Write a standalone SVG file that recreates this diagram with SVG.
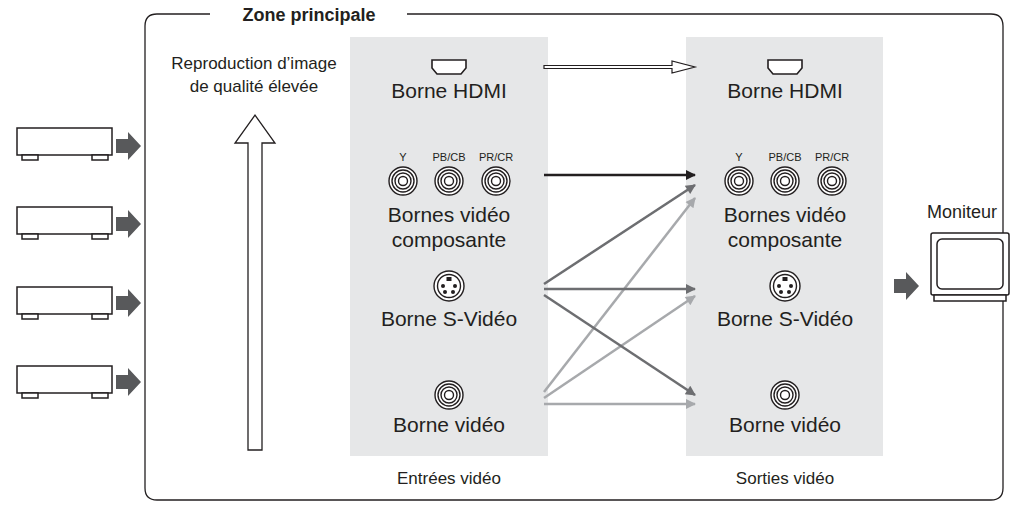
<svg xmlns="http://www.w3.org/2000/svg" width="1015" height="514" viewBox="0 0 1015 514">
<style>
text{font-family:"Liberation Sans",Arial,sans-serif;fill:#231f20}
.l{font-size:21px;text-anchor:middle}
.s{font-size:17px;text-anchor:middle}
.t{font-size:11px;text-anchor:middle}
.dev{fill:#fff;stroke:#231f20;stroke-width:1.5}
.jack{fill:#fff;stroke:#231f20;stroke-width:1.4}
</style>
<defs>
<marker id="mk" viewBox="0 0 10 10" refX="9" refY="5" markerWidth="15" markerHeight="10" orient="auto" markerUnits="userSpaceOnUse"><path d="M0,0L10,5L0,10z" fill="context-stroke"/></marker>
<g id="rca"><circle r="14" class="jack"/><circle r="11" class="jack"/><circle r="8" class="jack"/><circle r="4.5" class="jack"/></g>
<path id="hdmi" d="M-17,-7H17V1L12,7H-12L-17,1Z" fill="#fff" stroke="#231f20" stroke-width="1.6"/>
<g id="sv"><circle r="15" class="jack"/><circle r="11.5" class="jack"/><rect x="-2.5" y="-9" width="5" height="4" fill="#231f20"/><circle cx="-6" cy="0" r="2" fill="#231f20"/><circle cx="6" cy="0" r="2" fill="#231f20"/><circle cx="-4" cy="6" r="2" fill="#231f20"/><circle cx="4" cy="6" r="2" fill="#231f20"/></g>
<g id="box"><rect x="0" y="0" width="95" height="27" class="dev"/><rect x="5" y="27" width="16" height="5" class="dev"/><rect x="75" y="27" width="16" height="5" class="dev"/></g>
<path id="bar" d="M0,-7H12V-14L25,0L12,14V7H0Z" fill="#58595b"/>
</defs>
<g id="frame"><path d="M210,14H157Q145,14 145,26V488Q145,500 157,500H991Q1003,500 1003,488V26Q1003,14 991,14H407" fill="none" stroke="#231f20" stroke-width="1.3"/>
<text x="309" y="21" style="font-size:18px;font-weight:bold;text-anchor:middle">Zone principale</text></g>
<rect x="350" y="37" width="198" height="419" fill="#e6e7e8"/>
<rect x="686" y="37" width="197" height="419" fill="#e6e7e8"/>
<g id="quality"><text x="254" y="69" class="s">Reproduction d’image</text><text x="254" y="92" class="s">de qualité élevée</text>
<path d="M248,450V143H235L255,115L275,143H262V450Z" fill="#fff" stroke="#231f20" stroke-width="1.3"/></g>
<g id="sources"><use href="#box" x="17" y="128"/><use href="#bar" x="116" y="146"/>
<use href="#box" x="17" y="207"/><use href="#bar" x="116" y="224"/>
<use href="#box" x="17" y="287"/><use href="#bar" x="116" y="303"/>
<use href="#box" x="17" y="366"/><use href="#bar" x="116" y="382"/></g>
<g id="in-hdmi"><use href="#hdmi" x="449" y="67"/><text x="449" y="98" class="l">Borne HDMI</text></g>
<g id="in-comp"><text x="403" y="161" class="t">Y</text><text x="449" y="161" class="t">PB/CB</text><text x="496" y="161" class="t">PR/CR</text>
<use href="#rca" x="403" y="181"/><use href="#rca" x="449" y="181"/><use href="#rca" x="496" y="181"/>
<text x="449" y="222" class="l">Bornes vidéo</text><text x="449" y="247" class="l">composante</text></g>
<g id="in-sv"><use href="#sv" x="449" y="286"/><text x="449" y="326" class="l">Borne S-Vidéo</text></g>
<g id="in-v"><use href="#rca" x="449" y="395"/><text x="449" y="432" class="l">Borne vidéo</text></g>
<text x="449" y="484" class="s">Entrées vidéo</text>
<g id="out-hdmi"><use href="#hdmi" x="785" y="67"/><text x="785" y="98" class="l">Borne HDMI</text></g>
<g id="out-comp"><text x="739" y="161" class="t">Y</text><text x="785" y="161" class="t">PB/CB</text><text x="832" y="161" class="t">PR/CR</text>
<use href="#rca" x="739" y="181"/><use href="#rca" x="785" y="181"/><use href="#rca" x="832" y="181"/>
<text x="785" y="222" class="l">Bornes vidéo</text><text x="785" y="247" class="l">composante</text></g>
<g id="out-sv"><use href="#sv" x="785" y="286"/><text x="785" y="326" class="l">Borne S-Vidéo</text></g>
<g id="out-v"><use href="#rca" x="785" y="395"/><text x="785" y="432" class="l">Borne vidéo</text></g>
<text x="785" y="484" class="s">Sorties vidéo</text>
<g id="connectors" fill="none" stroke-width="2.5">
<path d="M544,65.5H672V61L695,67L672,73V68.5H544Z" fill="#fff" stroke="#231f20" stroke-width="1.2"/>
<path d="M544,175H695" stroke="#231f20" marker-end="url(#mk)"/>
<path d="M544,392L695,198" stroke="#a7a9ac" marker-end="url(#mk)"/>
<path d="M544,398L695,296" stroke="#a7a9ac" marker-end="url(#mk)"/>
<path d="M544,404H695" stroke="#a7a9ac" marker-end="url(#mk)"/>
<path d="M544,284L695,185" stroke="#6d6e71" marker-end="url(#mk)"/>
<path d="M544,289H695" stroke="#6d6e71" marker-end="url(#mk)"/>
<path d="M544,295L695,395" stroke="#6d6e71" marker-end="url(#mk)"/>
</g>
<use href="#bar" x="894" y="286"/>
<g id="monitor"><text x="962" y="218" style="font-size:18px;text-anchor:middle">Moniteur</text>
<rect x="931" y="233" width="78" height="62" rx="2" class="dev"/><rect x="937" y="239" width="66" height="50" rx="5" class="dev"/>
<rect x="934" y="295" width="72" height="6" class="dev"/></g>
</svg>
